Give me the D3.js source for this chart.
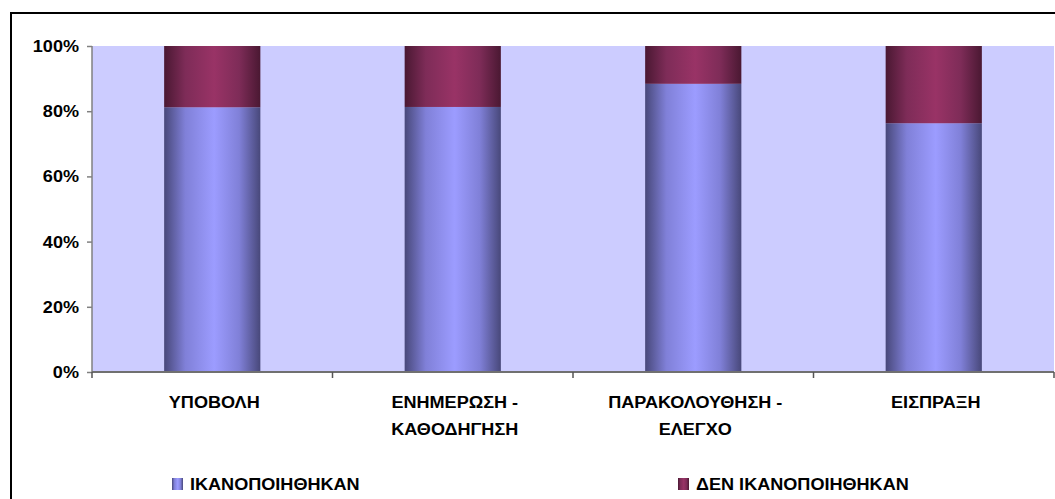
<!DOCTYPE html>
<html>
<head>
<meta charset="utf-8">
<script src="https://cdn.jsdelivr.net/npm/d3@7"></script>
<style>
  body { margin: 0; background: #fff; }
  text { font-family: "Liberation Sans", Arial, sans-serif; font-weight: bold; fill: #000; }
</style>
</head>
<body>
<div id="chart"></div>
<script>
// chart data
let categories = ["ΥΠΟΒΟΛΗ", "ΕΝΗΜΕΡΩΣΗ -|ΚΑΘΟΔΗΓΗΣΗ", "ΠΑΡΑΚΟΛΟΥΘΗΣΗ -|ΕΛΕΓΧΟ", "ΕΙΣΠΡΑΞΗ"];
let satisfied = [81.2, 81.3, 88.4, 76.3];
let notSatisfied = [18.8, 18.7, 11.6, 23.7];
let seriesNames = ["ΙΚΑΝΟΠΟΙΗΘΗΚΑΝ", "ΔΕΝ ΙΚΑΝΟΠΟΙΗΘΗΚΑΝ"];
let yTicks = [0, 20, 40, 60, 80, 100];

const W = 1055, H = 499;
const stretch = 1.13; // text looks wider than normal in the picture

var margin = {top: 46, right: 1, bottom: 127, left: 92},
    width = W - margin.left - margin.right,
    height = H - margin.top - margin.bottom;

var root = d3.select("#chart").append("svg")
  .attr("width", W).attr("height", H);

// gradients for cylinder-like bars
var defs = root.append("defs");
function makeGrad(id, dark, mid, light) {
  var g = defs.append("linearGradient").attr("id", id)
    .attr("x1", "0%").attr("x2", "100%").attr("y1", "0%").attr("y2", "0%");
  g.append("stop").attr("offset", "0%").attr("stop-color", dark);
  g.append("stop").attr("offset", "22%").attr("stop-color", mid);
  g.append("stop").attr("offset", "52%").attr("stop-color", light);
  g.append("stop").attr("offset", "78%").attr("stop-color", mid);
  g.append("stop").attr("offset", "100%").attr("stop-color", dark);
}
makeGrad("gBlue", "#48487a", "#8080d8", "#9c9cff");
makeGrad("gRed", "#4a1832", "#7e2c58", "#993366");

// outer frame (right/bottom edges are cut off in the picture)
root.append("rect")
  .attr("x", 11).attr("y", 13)
  .attr("width", 1200).attr("height", 700)
  .attr("fill", "none").attr("stroke", "#000").attr("stroke-width", 2);

var svg = root.append("g")
  .attr("transform", "translate(" + margin.left + "," + margin.top + ")");

var x = d3.scaleBand().domain(categories).range([0, width]).paddingInner(0).paddingOuter(0);
var y = d3.scaleLinear().domain([0, 100]).range([height, 0]);

// plot background
svg.append("rect").attr("width", width).attr("height", height).attr("fill", "#ccccff");

// bars
var bw = x.bandwidth() * 0.4;
var stack = categories.map((c, i) => ({cat: c, a: satisfied[i], b: notSatisfied[i]}));

svg.selectAll(".barA").data(stack).enter().append("rect")
  .attr("x", d => x(d.cat) + (x.bandwidth() - bw) / 2)
  .attr("width", bw)
  .attr("y", d => y(d.a))
  .attr("height", d => y(0) - y(d.a))
  .attr("fill", "url(#gBlue)");

svg.selectAll(".barB").data(stack).enter().append("rect")
  .attr("x", d => x(d.cat) + (x.bandwidth() - bw) / 2)
  .attr("width", bw)
  .attr("y", d => y(d.a + d.b))
  .attr("height", d => y(d.a) - y(d.a + d.b))
  .attr("fill", "url(#gRed)");

// y axis
var yAxis = svg.append("g")
  .call(d3.axisLeft(y).tickValues(yTicks).tickSize(5).tickFormat(""));
yAxis.selectAll("line, path").attr("stroke", "#808080").attr("stroke-width", 1.5);
yAxis.select(".domain").attr("d", "M0," + height + "V0");

yTicks.forEach(function(t) {
  svg.append("text")
    .attr("transform", "translate(-13," + (y(t) + 6) + ") scale(" + stretch + ",1)")
    .attr("text-anchor", "end")
    .style("font-size", "16px")
    .text(t + "%");
});

// x axis
var xAxis = svg.append("g")
  .attr("transform", "translate(0," + height + ")")
  .call(d3.axisBottom(x).tickSize(0).tickFormat(""));
xAxis.select(".domain").attr("d", "M0,0H" + width).attr("stroke", "#707070").attr("stroke-width", 2);
var bounds = categories.map(c => x(c)).concat([width]);
xAxis.selectAll(".bnd").data(bounds).enter().append("line")
  .attr("x1", d => d).attr("x2", d => d)
  .attr("y1", 0).attr("y2", 6)
  .attr("stroke", "#555").attr("stroke-width", 1.5);

categories.forEach(function(c) {
  c.split("|").forEach(function(line, j) {
    svg.append("text")
      .attr("transform", "translate(" + (x(c) + x.bandwidth() / 2 + 2) + "," + (height + 36 + j * 27) + ") scale(" + stretch + ",1)")
      .attr("text-anchor", "middle")
      .style("font-size", "16px")
      .text(line);
  });
});

// legend
var legX = [172, 678];
var legend = root.selectAll(".leg").data(seriesNames).enter().append("g")
  .attr("transform", (d, i) => "translate(" + legX[i] + ",478)");
legend.append("rect")
  .attr("width", 11).attr("height", 12)
  .attr("fill", (d, i) => i == 0 ? "url(#gBlue)" : "url(#gRed)");
legend.append("text")
  .attr("transform", "translate(18,12) scale(" + stretch + ",1)")
  .style("font-size", "16px")
  .text(d => d);
</script>
</body>
</html>
